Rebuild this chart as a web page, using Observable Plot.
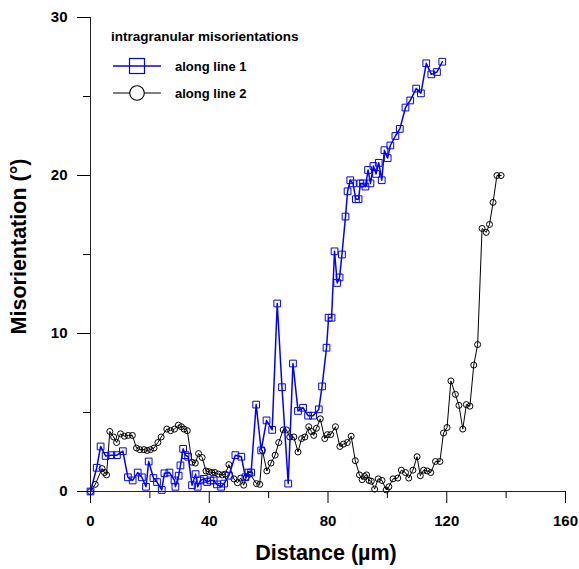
<!DOCTYPE html>
<html><head><meta charset="utf-8">
<script src="https://cdn.jsdelivr.net/npm/d3@7"></script>
<script src="https://cdn.jsdelivr.net/npm/@observablehq/plot@0.6"></script>
<style>body{margin:0;background:#fff}#chart{width:579px;height:569px}</style>
</head><body><div id="chart"></div>
<script>
const line1X = [0,2.1,3.4,5.1,7.0,8.9,10.9,12.6,14.2,15.9,17.3,18.7,19.6,21.2,22.4,24.0,24.9,26.6,28.3,28.6,29.7,30.3,31.2,32.0,32.9,34.2,35.4,36.1,37.0,38.2,39.3,40.4,41.5,42.6,44.0,45.0,46.6,48.8,50.8,52.2,53.2,54.1,55.8,57.5,59.3,61.2,62.9,64.5,66.6,68.2,69.9,71.6,73.3,75.0,76.9,78.0,79.5,80.2,81.2,82.2,83.1,83.9,84.7,85.9,86.6,87.5,88.4,89.4,90.3,90.9,91.8,92.6,93.5,94.3,95.3,96.2,97.1,98.1,99.0,100.1,101.0,102.7,104.2,106.1,107.7,109.7,111.3,113.1,114.8,116.7,118.5];
const line1Y = [0,1.5,2.85,2.25,2.3,2.3,2.55,0.9,0.7,1.2,0.9,0.3,1.9,0.85,0.6,0.1,1.15,1.2,0.7,0.3,1.0,1.65,2.7,2.3,2.2,0.4,1.1,0.3,0.7,0.8,0.6,0.7,0.7,0.45,0.3,0.5,1.0,2.3,2.2,0.9,1.2,1.2,5.5,2.6,4.5,3.9,11.9,6.6,0.5,8.1,5.1,5.3,4.8,4.8,5.2,6.65,9.1,11.0,11.0,15.2,13.2,13.55,15.0,17.4,19.0,19.7,19.5,18.5,18.5,19.5,19.5,19.3,20.35,19.5,20.6,20.1,20.8,19.7,21.6,21.1,21.9,22.5,22.95,24.3,24.75,25.5,25.2,27.1,26.4,26.55,27.2];
const line2X = [0,1.6,3.9,4.7,5.4,6.5,7.8,8.8,10.1,11.4,12.7,14.1,15.5,16.6,18.0,19.1,20.2,21.4,22.7,23.8,25.7,27.0,28.3,29.6,30.6,31.5,32.6,34.2,35.3,36.4,37.6,38.9,39.9,40.9,41.9,43.1,44.4,45.4,46.6,48.3,49.5,50.6,51.6,52.5,53.7,55.9,57.0,57.9,59.4,60.8,62.2,63.4,64.9,66.0,67.1,68.5,69.9,71.1,72.2,73.5,74.4,75.2,76.1,77.4,78.9,79.8,80.9,82.5,84.0,85.2,86.5,87.8,89.2,90.6,91.5,92.3,93.0,93.8,94.6,95.7,96.9,98.2,99.6,100.5,101.9,103.5,104.7,106.1,107.2,108.6,110.0,111.1,112.2,113.4,114.6,116.2,117.7,118.9,120.1,121.4,122.9,124.1,125.4,126.6,127.8,129.1,130.4,131.9,133.3,134.4,135.6,136.9,138.3];
const line2Y = [0,0.45,1.45,1.2,1.05,3.8,3.45,3.1,3.65,3.5,3.55,3.55,2.75,2.65,2.65,2.6,2.65,2.75,3.1,3.45,3.95,3.85,3.95,4.2,4.1,3.95,3.85,1.85,1.8,2.4,2.15,1.3,1.25,1.2,1.2,1.1,1.05,1.1,1.7,0.8,0.55,0.85,0.4,0.9,1.1,0.5,0.45,2.6,1.3,1.8,2.3,3.1,3.9,3.9,3.45,3.45,2.5,3.35,3.45,4.1,3.8,3.55,4.0,4.6,3.35,3.6,3.6,4.1,2.85,3.0,3.1,3.5,1.95,1.05,0.75,0.95,1.05,0.7,0.65,0.15,0.8,0.7,0.1,0.3,0.8,0.85,1.35,1.2,0.85,1.35,2.2,1.0,1.35,1.3,1.2,1.9,1.9,3.7,4.05,7.0,6.15,5.45,3.95,5.5,5.4,8.0,9.3,16.65,16.4,16.9,18.3,20.0,20.0];

const xMajorTicks = [0,40,80,120,160];
const xMinorTicks = [20,60,100,140];
const yMajorTicks = [0,10,20,30];
const yMinorTicks = [5,15,25];
const legendTitle = "intragranular misorientations";
const seriesNames = ["along line 1", "along line 2"];
const xLabel = "Distance (µm)";
const yLabel = "Misorientation (°)";

const line1 = line1X.map((x, i) => ({x, y: line1Y[i]}));
const line2 = line2X.map((x, i) => ({x, y: line2Y[i]}));

const FONT = "'Liberation Sans', Arial, Helvetica, sans-serif";
const BLUE = "#0000ff";

const chart = Plot.plot({
  width: 579, height: 569,
  marginLeft: 90, marginRight: 14, marginTop: 17, marginBottom: 78,
  style: {fontFamily: FONT, fontSize: "15px", fontWeight: "bold", background: "#fff", color: "#000"},
  x: {domain: [0, 160]},
  y: {domain: [0, 30]},
  marks: [
    Plot.axisX({ticks: xMajorTicks, tickSize: 12, tickPadding: 12, label: null, fontSize: 15, fontWeight: "bold", stroke: "#000"}),
    Plot.axisX({ticks: xMinorTicks, tickSize: 7, tickFormat: () => "", label: null, stroke: "#000"}),
    Plot.axisY({ticks: yMajorTicks, tickSize: 13, tickPadding: 10, label: null, fontSize: 15, fontWeight: "bold", stroke: "#000"}),
    Plot.axisY({ticks: yMinorTicks, tickSize: 7, tickFormat: () => "", label: null, stroke: "#000"}),
    Plot.ruleY([0], {stroke: "#222"}),
    Plot.ruleX([0], {stroke: "#222"}),
    Plot.line(line2, {x: "x", y: "y", stroke: "#000", strokeWidth: 1}),
    Plot.dot(line2, {x: "x", y: "y", r: 3, stroke: "#000", strokeWidth: 1, fill: "none"}),
    Plot.line(line1, {x: "x", y: "y", stroke: BLUE, strokeWidth: 1.5}),
    Plot.dot(line1, {x: "x", y: "y", symbol: "square", r: 3.8, stroke: BLUE, strokeWidth: 1, fill: "none"}),
    Plot.text([yLabel], {frameAnchor: "left", rotate: -90, dx: -71, dy: -8, textAnchor: "middle", lineAnchor: "middle", fontSize: 21.5, fontWeight: "bold"}),
    Plot.text([xLabel], {frameAnchor: "bottom", dy: 62, dx: -2, textAnchor: "middle", lineAnchor: "middle", fontSize: 21.5, fontWeight: "bold"})
  ]
});

document.getElementById("chart").appendChild(chart);

// in-plot legend
const svg = d3.select(chart);
const lg = svg.append("g").attr("font-family", FONT).attr("font-weight", "bold")
  .attr("font-size", 13).attr("text-anchor", "start");
lg.append("text").attr("x", 111).attr("y", 41).attr("font-size", 13.5).attr("text-anchor", "start").text(legendTitle);
const entries = [
  {name: seriesNames[0], color: BLUE, sym: "square", y: 66, w: 1.5},
  {name: seriesNames[1], color: "#000", sym: "circle", y: 93, w: 1}
];
entries.forEach(e => {
  lg.append("line").attr("x1", 113).attr("x2", 161).attr("y1", e.y).attr("y2", e.y)
    .attr("stroke", e.color).attr("stroke-width", e.w);
  if (e.sym === "square") {
    lg.append("rect").attr("x", 129.5).attr("y", e.y - 7.5).attr("width", 15).attr("height", 15)
      .attr("fill", "none").attr("stroke", e.color).attr("stroke-width", 1.2);
  } else {
    lg.append("circle").attr("cx", 137).attr("cy", e.y).attr("r", 7.3)
      .attr("fill", "#fff").attr("stroke", e.color).attr("stroke-width", 1.1);
  }
  lg.append("text").attr("x", 175).attr("y", e.y + 4.5).attr("text-anchor", "start").text(e.name);
});
</script>
</body></html>
